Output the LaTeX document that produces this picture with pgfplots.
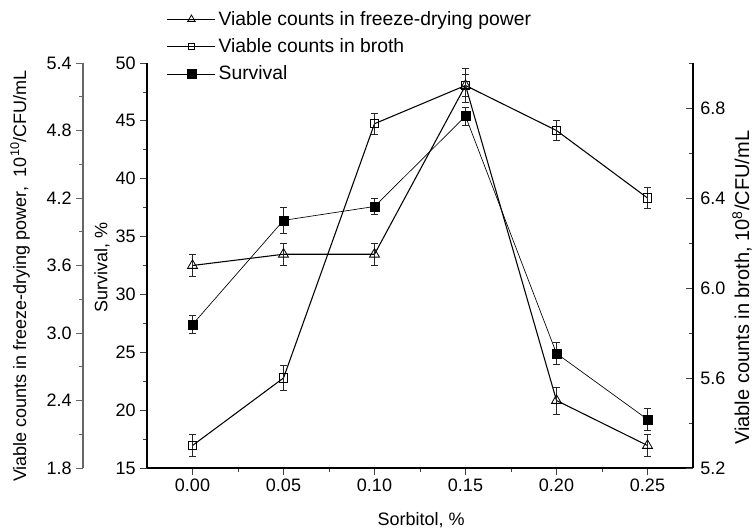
\documentclass[border=0pt]{standalone}
\usepackage{fontspec}
\setmainfont{Liberation Sans}
\usepackage{pgfplots}
\pgfplotsset{compat=1.18}
\begin{document}
\begin{tikzpicture}[font=\fontsize{13.5}{16}\selectfont]
\pgfplotsset{
  common/.style={
    scale only axis, width=409.5pt, height=303.75pt,
    xmin=-0.025, xmax=0.275,
    /pgf/number format/assume math mode=true,
    tick label style={font=\fontsize{13.5}{16}\selectfont},
    label style={font=\fontsize{13.5}{16}\selectfont},
    major tick length=5pt, minor tick length=3pt,
    every tick/.style={black!75, line width=0.6pt},
    axis line style={-, line width=0.8pt},
    clip=false,
  },
  errs/.style={
    error bars/y dir=both, error bars/y explicit,
    error bars/error bar style={line width=0.6pt, black!85},
    error bars/error mark options={rotate=90, mark size=2.6pt, line width=0.6pt, black!85},
  },
  tri/.style={black, line width=0.8pt, mark=triangle, mark size=4.3pt, mark options={line width=0.6pt, solid}},
  osq/.style={black, line width=0.8pt, mark=square, mark size=3.1pt, mark options={line width=0.6pt, solid}},
  fsq/.style={black, line width=0.5pt, mark=square*, mark size=3.4pt},
}
% main axis: Survival
\begin{axis}[common, ymin=15, ymax=50,
  axis x line*=bottom, axis y line*=left, tick align=outside,
  xtick={0,0.05,0.1,0.15,0.2,0.25},
  xticklabels={0.00,0.05,0.10,0.15,0.20,0.25},
  minor xtick={0.025,0.075,0.125,0.175,0.225},
  ytick={15,20,25,30,35,40,45,50},
  minor ytick={17.5,22.5,27.5,32.5,37.5,42.5,47.5},
  xlabel={Sorbitol, \%}, ylabel={Survival, \%},
  xlabel style={at={(axis description cs:0.502,-0.128)}, anchor=center},
  ylabel style={at={(axis description cs:-0.0824,0.494)}, anchor=center},
  legend style={at={(axis description cs:0.036,1.135)}, anchor=north west, draw=none, fill=none,
    font=\fontsize{14.5}{17}\selectfont, row sep=4.5pt, inner sep=0pt, cells={anchor=west}},
  legend image code/.code={\draw[mark repeat=2,mark phase=2,#1] plot coordinates {(0pt,0pt)(18pt,0pt)(36pt,0pt)};},
]
\addlegendimage{tri, mark size=3.2pt}
\addlegendentry{Viable counts in freeze-drying power}
\addlegendimage{osq, mark size=2.3pt}
\addlegendentry{Viable counts in broth}
\addplot[fsq, errs] coordinates {
 (0,27.4) +- (0,0.8)
 (0.05,36.4) +- (0,1.1)
 (0.10,37.6) +- (0,0.7)
 (0.15,45.4) +- (0,0.8)
 (0.20,24.9) +- (0,0.95)
 (0.25,19.2) +- (0,0.95)
};
\addlegendentry{Survival}
\end{axis}
% right axis: broth
\begin{axis}[common, ymin=5.2, ymax=7.0,
  axis x line=none, axis y line*=right, tick align=inside,
  ytick={5.2,5.6,6.0,6.4,6.8}, minor ytick={5.4,5.8,6.2,6.6,7.0},
  yticklabel style={xshift=2pt, /pgf/number format/.cd, fixed, fixed zerofill, precision=1},
  ylabel={Viable counts in broth, 10\textsuperscript{8}/CFU/mL},
  ylabel style={at={(axis description cs:1.0897,0.445)}, anchor=center, font=\fontsize{15}{18}\selectfont},
]
\addplot[osq, errs] coordinates {
 (0,5.30) +- (0,0.05)
 (0.05,5.60) +- (0,0.055)
 (0.10,6.73) +- (0,0.047)
 (0.15,6.90) +- (0,0.05)
 (0.20,6.70) +- (0,0.045)
 (0.25,6.40) +- (0,0.045)
};
\end{axis}
% data axis: freeze-drying
\begin{axis}[common, ymin=1.8, ymax=5.4, hide axis]
\addplot[tri, errs] coordinates {
 (0,3.60) +- (0,0.10)
 (0.05,3.70) +- (0,0.10)
 (0.10,3.70) +- (0,0.10)
 (0.15,5.20) +- (0,0.15)
 (0.20,2.40) +- (0,0.12)
 (0.25,2.00) +- (0,0.10)
};
\end{axis}
% outer left axis (scale only)
\begin{axis}[scale only axis, width=1pt, height=303.75pt, at={(-48pt,0pt)},
  xmin=0, xmax=1, ymin=1.8, ymax=5.4,
  /pgf/number format/assume math mode=true,
  tick label style={font=\fontsize{13.5}{16}\selectfont},
  label style={font=\fontsize{13.5}{16}\selectfont},
  major tick length=5pt, minor tick length=3pt,
  every tick/.style={black!60, line width=0.6pt},
  axis line style={-, line width=0.8pt, black!60},
  axis x line=none, axis y line*=left, tick align=outside,
  ytick={1.8,2.4,3.0,3.6,4.2,4.8,5.4}, minor ytick={2.1,2.7,3.3,3.9,4.5,5.1},
  yticklabel style={/pgf/number format/.cd, fixed, fixed zerofill, precision=1},
  ylabel={Viable counts in freeze-drying power,\ \ 10\textsuperscript{10}/CFU/mL},
  ylabel style={at={(axis description cs:-47.25,0.474)}, anchor=center},
]
\end{axis}
\pgfresetboundingbox
\path[use as bounding box] (-110.25pt,-47.25pt) rectangle (456.75pt,351pt);
\end{tikzpicture}
\end{document}
